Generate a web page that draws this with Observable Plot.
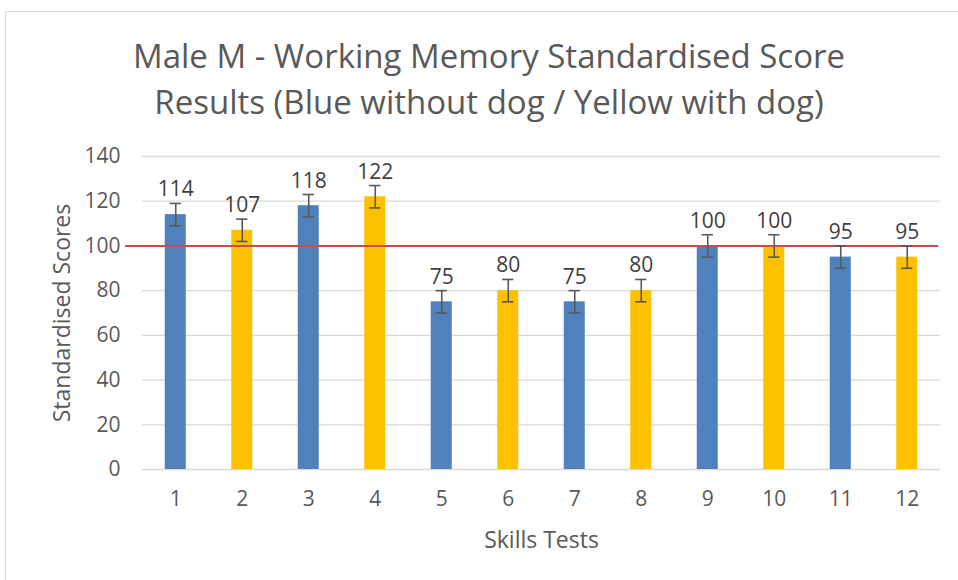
<!DOCTYPE html>
<html>
<head>
<meta charset="utf-8">
<script src="https://cdn.jsdelivr.net/npm/d3@7"></script>
<script src="https://cdn.jsdelivr.net/npm/@observablehq/plot@0.6"></script>
<style>
  html, body { margin: 0; padding: 0; background: #fff; }
  #wrap { position: relative; width: 958px; height: 580px; overflow: hidden; }
  #border { position: absolute; left: 5px; top: 11px; width: 1000px; height: 1000px; border: 1.5px solid #d9d9d9; box-sizing: border-box; }
  #title { position: absolute; left: 0; top: 33px; width: 978px; text-align: center;
    font-family: "Open Sans", sans-serif; font-size: 33px; line-height: 46px; color: #595959; }
  #chart { position: absolute; left: 0; top: 0; }
</style>
</head>
<body>
<div id="wrap">
  <div id="border"></div>
  <div id="chart"></div>
  <div id="title">Male M - Working Memory Standardised Score<br>Results (Blue without dog / Yellow with dog)</div>
</div>
<script>
const tests = [1, 2, 3, 4, 5, 6, 7, 8, 9, 10, 11, 12];
const scores = [114, 107, 118, 122, 75, 80, 75, 80, 100, 100, 95, 95];
const groups = ["without dog", "with dog", "without dog", "with dog", "without dog", "with dog",
                "without dog", "with dog", "without dog", "with dog", "without dog", "with dog"];
const errors = [5, 5, 5, 5, 5, 5, 5, 5, 5, 5, 5, 5];
const yTicks = [0, 20, 40, 60, 80, 100, 120, 140];
const reference = [100];
const groupNames = ["without dog", "with dog"];
const groupColors = ["#4f81bd", "#ffc000"];

const data = tests.map((t, i) => ({test: t, score: scores[i], group: groups[i], err: errors[i]}));
const halfBar = 0.158;
const halfCap = 0.085;

const chart = Plot.plot({
  width: 958,
  height: 580,
  marginTop: 156,
  marginBottom: 111,
  marginLeft: 142,
  marginRight: 18,
  style: {fontFamily: "'Open Sans', sans-serif", fontSize: "21px", color: "#595959", background: "transparent"},
  x: {domain: [0.5, 12.5]},
  y: {domain: [0, 140]},
  color: {domain: groupNames, range: groupColors},
  marks: [
    Plot.ruleY(yTicks, {x1: 0.5, x2: 12.5, stroke: "#d9d9d9", strokeWidth: 1.3}),
    Plot.rectY(data, {x1: d => d.test - halfBar, x2: d => d.test + halfBar, y: "score", fill: "group"}),
    Plot.ruleY(reference, {x1: 0.245, x2: 12.47, stroke: "#c0504d", strokeWidth: 2}),
    Plot.ruleX(data, {x: "test", y1: d => d.score - d.err, y2: d => d.score + d.err, stroke: "#595959", strokeWidth: 1.6}),
    Plot.ruleY(data, {y: d => d.score + d.err, x1: d => d.test - halfCap, x2: d => d.test + halfCap, stroke: "#595959", strokeWidth: 1.6}),
    Plot.ruleY(data, {y: d => d.score - d.err, x1: d => d.test - halfCap, x2: d => d.test + halfCap, stroke: "#595959", strokeWidth: 1.6}),
    Plot.text(data, {x: "test", y: d => d.score + d.err, text: d => String(d.score), lineAnchor: "bottom", dy: -7, fill: "#404040", fontSize: 21}),
    Plot.axisX({ticks: tests, tickSize: 0, tickPadding: 22, label: null, tickFormat: d => String(d), fontSize: 21}),
    Plot.axisY({ticks: yTicks, tickSize: 0, tickPadding: 22, label: null, fontSize: 21}),
    Plot.text(["Skills Tests"], {frameAnchor: "bottom", dy: 78, fontSize: 23}),
    Plot.text(["Standardised Scores"], {frameAnchor: "left", textAnchor: "middle", rotate: -90, dx: -80, fontSize: 23})
  ]
});
document.getElementById("chart").appendChild(chart);
</script>
</body>
</html>
